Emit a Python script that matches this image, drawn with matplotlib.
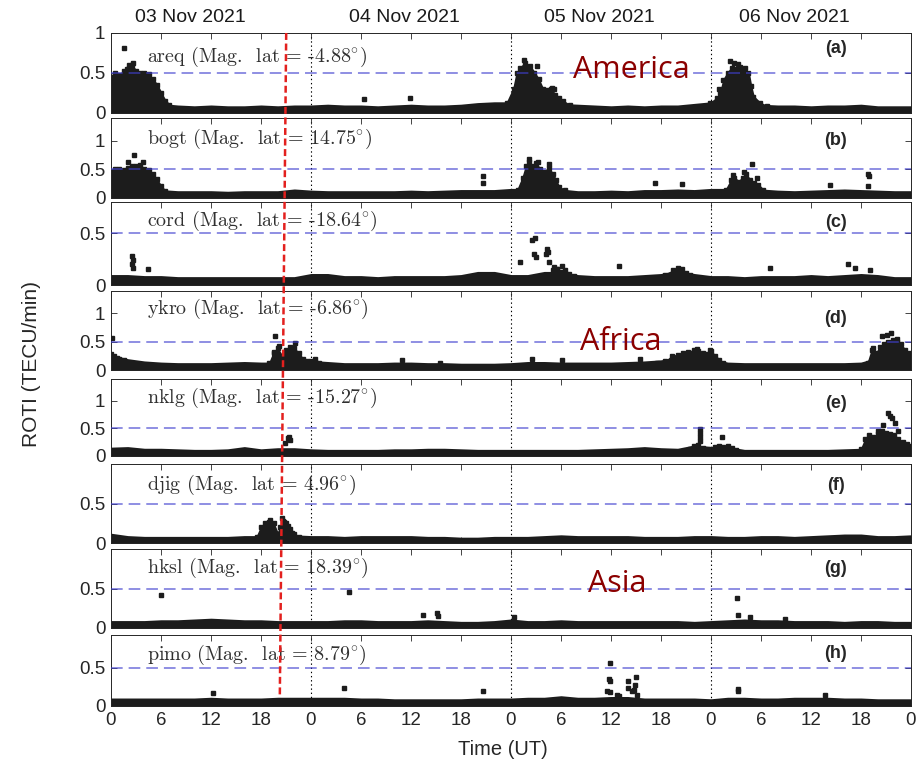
import matplotlib.pyplot as plt
from matplotlib.lines import Line2D

plt.rcParams['font.family'] = ['Liberation Sans', 'DejaVu Sans']
plt.rcParams['mathtext.fontset'] = 'cm'
plt.rcParams['lines.scale_dashes'] = False

W, H = 924, 760
INK = '#1c1c1c'

# ---- data (hours since 03 Nov 2021 00 UT, ROTI in TECU/min) ----
hours = list(range(0, 97, 2))
hour_ticks = list(range(0, 97, 6))
hour_labels = ['0', '6', '12', '18'] * 4 + ['0']
days = ['03 Nov 2021', '04 Nov 2021', '05 Nov 2021', '06 Nov 2021']
stations = ['areq', 'bogt', 'cord', 'ykro', 'nklg', 'djig', 'hksl', 'pimo']
mag_lat = ['-4.88', '14.75', '-18.64', '-6.86', '-15.27', '4.96', '18.39', '8.79']
tags = ['(a)', '(b)', '(c)', '(d)', '(e)', '(f)', '(g)', '(h)']
regions = ['America', 'Africa', 'Asia']
y_max = [1.0, 1.4, 0.8, 1.4, 1.4, 1.0, 1.0, 0.93]

# upper edge of the dense quiet-time band, every 2 h
areq_base = [.1, .1, .1, .1, .08, .07, .08, .07, .07, .08, .07, .08, .08, .09, .08, .08, .07,
             .08, .09, .08, .08, .09, .11, .12, .12, .12, .12, .1, .09, .08, .07, .08, .07,
             .08, .08, .1, .12, .12, .12, .09, .08, .08, .07, .08, .08, .09, .07, .07, .07]
bogt_base = [.14, .14, .14, .12, .1, .1, .1, .09, .1, .1, .1, .13, .11, .1, .1, .1, .1,
             .1, .11, .1, .11, .12, .12, .12, .14, .14, .14, .13, .1, .1, .11, .1, .12,
             .12, .13, .12, .14, .14, .14, .13, .11, .1, .11, .12, .13, .12, .11, .1, .1]
cord_base = [.09, .09, .08, .08, .07, .07, .07, .07, .07, .07, .07, .07, .1, .1, .08, .08, .07,
             .08, .08, .08, .08, .09, .12, .12, .09, .09, .12, .12, .09, .08, .08, .08, .09,
             .1, .13, .1, .08, .08, .07, .08, .08, .08, .09, .08, .09, .1, .09, .07, .07]
ykro_base = [.25, .18, .14, .12, .11, .11, .11, .12, .13, .12, .12, .15, .15, .13, .11, .11, .11,
             .12, .12, .11, .11, .1, .1, .1, .11, .13, .13, .12, .12, .12, .12, .13, .14,
             .16, .2, .2, .18, .12, .11, .11, .11, .11, .11, .11, .11, .12, .2, .25, .2]
nklg_base = [.14, .15, .12, .12, .11, .1, .1, .11, .15, .11, .13, .13, .11, .1, .1, .1, .1,
             .11, .11, .12, .12, .11, .1, .1, .1, .1, .1, .1, .1, .11, .12, .13, .15,
             .13, .12, .18, .15, .15, .1, .1, .1, .1, .1, .1, .11, .12, .2, .2, .18]
djig_base = [.11, .08, .07, .07, .07, .07, .07, .07, .08, .08, .1, .09, .08, .08, .07, .08, .08,
             .08, .08, .07, .07, .06, .06, .07, .07, .07, .08, .09, .08, .08, .08, .08, .07,
             .07, .07, .08, .08, .07, .07, .08, .08, .07, .08, .09, .1, .1, .08, .08, .09]
hksl_base = [.08, .08, .08, .09, .09, .1, .11, .1, .09, .09, .08, .08, .08, .08, .09, .09, .08,
             .08, .08, .09, .08, .07, .07, .08, .1, .08, .08, .09, .08, .08, .08, .08, .08,
             .08, .08, .07, .08, .09, .1, .09, .09, .08, .08, .08, .07, .08, .08, .07, .07]
pimo_base = [.09, .09, .09, .09, .09, .09, .1, .09, .09, .09, .1, .1, .1, .1, .1, .09, .09,
             .08, .08, .08, .08, .08, .09, .09, .09, .1, .1, .12, .1, .1, .11, .11, .09,
             .09, .09, .09, .08, .1, .1, .09, .09, .1, .1, .1, .09, .09, .08, .08, .08]

# dense bursts: (hours, upper edge)
areq_bursts = [
    ([0, .5, 1, 1.5, 2, 2.5, 3, 3.5, 4, 4.5, 5, 5.5, 6, 6.5, 7],
     [.45, .5, .47, .52, .55, .6, .52, .5, .5, .48, .42, .35, .25, .15, .1]),
    ([47.5, 48.3, 48.7, 49.1, 49.7, 50.3, 50.8, 51.3, 51.8, 52.3, 52.8, 53.3, 53.8, 54.3, 55.1],
     [.12, .3, .5, .56, .62, .58, .5, .42, .3, .28, .3, .22, .18, .14, .09]),
    ([71.9, 72.7, 73.1, 73.5, 74, 74.5, 75, 75.5, 76, 76.5, 76.8, 77.1, 77.9, 78.7],
     [.12, .18, .24, .41, .5, .56, .55, .57, .52, .5, .33, .2, .12, .08]),
]
bogt_bursts = [
    ([0, .5, 1, 1.5, 2, 2.5, 3, 3.5, 4, 4.5, 5, 5.5, 6, 6.5],
     [.45, .5, .5, .48, .52, .56, .55, .57, .5, .48, .42, .32, .2, .12]),
    ([48.8, 49.4, 49.8, 50.2, 50.6, 51, 51.5, 52, 52.5, 53, 53.4, 53.8, 54.5],
     [.14, .35, .55, .62, .55, .6, .5, .45, .52, .42, .3, .18, .13]),
    ([73.8, 74.4, 74.8, 75.3, 75.8, 76.2, 76.7, 77.2, 77.7, 78.3],
     [.14, .3, .35, .28, .35, .42, .3, .25, .22, .13]),
]
cord_bursts = [
    ([52.5, 53, 53.5, 54, 54.5, 55, 55.5], [.09, .14, .15, .13, .14, .11, .09]),
    ([66.5, 67.5, 68, 68.5, 69, 69.5], [.1, .14, .16, .15, .12, .1]),
]
ykro_bursts = [
    ([0, .3, .7, 1, 1.5], [.28, .25, .22, .2, .18]),
    ([19, 19.5, 20, 20.5, 21, 21.5, 22, 22.5, 23, 23.5, 24, 24.5, 25],
     [.12, .3, .38, .25, .35, .4, .38, .3, .2, .15, .16, .2, .12]),
    ([65.5, 66.5, 67.3, 68, 68.7, 69.3, 70, 70.5, 71, 71.5, 72, 72.5, 73, 73.5],
     [.12, .15, .24, .27, .3, .32, .35, .33, .3, .28, .33, .25, .18, .12]),
    ([90.8, 91.3, 91.8, 92.3, 92.8, 93.3, 93.8, 94.3, 94.8, 95.3, 95.8, 96],
     [.12, .35, .3, .4, .45, .5, .52, .5, .45, .35, .3, .28]),
]
nklg_bursts = [
    ([69.5, 70, 70.5, 71, 71.5], [.12, .18, .2, .15, .12]),
    ([72, 72.5, 73, 73.5, 74, 74.5, 75], [.12, .17, .18, .17, .18, .14, .11]),
    ([90, 90.5, 91, 91.5, 92, 92.5, 93, 93.5, 94, 94.5, 95, 95.5, 96],
     [.12, .3, .38, .35, .4, .45, .42, .4, .38, .3, .25, .22, .18]),
]
djig_bursts = [
    ([17.5, 18, 18.5, 19, 19.5, 20, 20.3, 20.7, 21, 21.5, 22, 22.5],
     [.08, .2, .26, .27, .25, .12, .2, .27, .25, .18, .12, .08]),
]
hksl_bursts = []
pimo_bursts = []

# isolated points
areq_dot_t = [1.5, 1.9, 2.2, 2.6, 30.3, 35.9, 49.6, 51.1, 52.9, 53.2, 72.9, 74.3, 74.8, 75.3, 76.1]
areq_dot_v = [.81, .55, .6, .62, .17, .18, .66, .58, .31, .3, .3, .64, .62, .61, .56]
bogt_dot_t = [2, 2.7, 3.8, 44.7, 44.7, 50.1, 51.2, 52.6, 65.3, 68.5, 74.7, 76, 76.9, 77.5, 86.3,
              90.9, 91, 90.9]
bogt_dot_v = [.62, .75, .62, .38, .25, .67, .63, .58, .26, .24, .4, .45, .58, .34, .22,
              .42, .38, .2]
cord_dot_t = [2.5, 2.6, 2.5, 2.6, 4.4, 49.1, 50.5, 50.9, 50.8, 51, 52.3, 52.4, 52.2, 52.6, 53.1,
              53.5, 54.1, 60.9, 79.1, 88.5, 89.3, 91.1]
cord_dot_v = [.28, .24, .2, .16, .15, .22, .43, .45, .3, .27, .35, .32, .3, .22, .17,
              .15, .18, .18, .16, .2, .16, .14]
ykro_dot_t = [.1, 19.5, 19.7, 20.1, 22.1, 34.9, 39.5, 50.5, 54.1, 63.5, 70.3, 71.9, 91.5, 92.5,
              93.1, 93.6, 94.3]
ykro_dot_v = [.56, .32, .59, .43, .47, .17, .13, .19, .18, .2, .37, .35, .38, .59,
              .62, .65, .55]
nklg_dot_t = [20.9, 21.2, 21.3, 21.5, 70.7, 70.7, 70.7, 70.7, 73.3, 92, 92.7, 93.2, 93.5, 93.7,
              94.1, 94.5]
nklg_dot_v = [.23, .32, .35, .29, .48, .41, .34, .27, .34, .45, .56, .77, .72, .68, .6, .45]
djig_dot_t = [19.1, 20.5, 20.6, 21.2, 21.7]
djig_dot_v = [.29, .32, .28, .22, .13]
hksl_dot_t = [6, 28.5, 37.5, 39.1, 39.3, 48.3, 75.1, 75.3, 76.7, 80.9]
hksl_dot_v = [.42, .45, .16, .19, .15, .14, .38, .16, .14, .12]
pimo_dot_t = [12.2, 28, 44.7, 59.9, 59.7, 59.9, 59.5, 59.9, 60.7, 61, 62.1, 62.1, 62.5, 63,
              62.9, 62.7, 63.1, 75.3, 75.3, 85.7]
pimo_dot_v = [.17, .23, .19, .56, .36, .33, .19, .18, .15, .13, .33, .24, .19, .38,
              .28, .21, .14, .22, .19, .14]

bases = [areq_base, bogt_base, cord_base, ykro_base, nklg_base, djig_base, hksl_base, pimo_base]
bursts = [areq_bursts, bogt_bursts, cord_bursts, ykro_bursts, nklg_bursts, djig_bursts,
          hksl_bursts, pimo_bursts]
dots = [(areq_dot_t, areq_dot_v), (bogt_dot_t, bogt_dot_v), (cord_dot_t, cord_dot_v),
        (ykro_dot_t, ykro_dot_v), (nklg_dot_t, nklg_dot_v), (djig_dot_t, djig_dot_v),
        (hksl_dot_t, hksl_dot_v), (pimo_dot_t, pimo_dot_v)]

# ---- layout (pixels) ----
panel_top = [32.5, 117.7, 202, 290.5, 378.7, 464.3, 549, 635]
panel_bot = [112.5, 197.5, 285, 370, 456, 543, 628, 706]
name_base = [62, 144, 226, 314, 403, 490, 573, 660]
tag_base = [53.3, 145, 226.7, 323.3, 408.3, 490, 572.7, 658.3]
region_pos = [(631.7, 78), (621, 350), (617.5, 592)]
day_x = [190, 404.5, 599, 794]

fig = plt.figure(figsize=(W / 100, H / 100), dpi=100)
fx = lambda px: px / W
fy = lambda py: 1 - py / H

for i in range(8):
    ax = fig.add_axes([fx(111), fy(panel_bot[i]), 800 / W, (panel_bot[i] - panel_top[i]) / H])
    ax.set_xlim(0, 96)
    ax.set_ylim(0, y_max[i])

    ax.fill_between(hours, 0, bases[i], color=INK, lw=1.6, zorder=2)
    for t, v in bursts[i]:
        ax.fill_between(t, 0, v, color=INK, lw=1.2, zorder=2)
        ax.plot(t, v, 's', ms=3.0, color=INK, zorder=2)
    ax.plot(dots[i][0], dots[i][1], 's', ms=2.8, color=INK, zorder=3)

    for d in (24, 48, 72):
        ax.axvline(d, color='k', lw=0.8, ls=(0, (1, 2)), zorder=1)
    ax.axhline(0.5, color='#4040d0', alpha=0.75, lw=1.1, ls=(0, (8.4, 4.3)), zorder=4)

    ax.set_xticks(hour_ticks)
    ax.set_yticks([0, 0.5, 1] if y_max[i] >= 1 and i < 5 else [0, 0.5])
    ax.set_yticklabels(['0', '0.5', '1'][:len(ax.get_yticks())])
    if i == 7:
        ax.set_xticklabels(hour_labels)
    else:
        ax.set_xticklabels([])
    ax.tick_params(direction='in', top=True, right=True, length=4, width=0.6,
                   labelsize=13.5, colors='#262626', pad=4)
    for s in ax.spines.values():
        s.set_linewidth(0.7)
        s.set_color('#262626')

    fig.text(fx(147), fy(name_base[i]),
             f'{stations[i]} (Mag.  lat = {mag_lat[i]}' + r'$^{\circ}$)',
             fontfamily='cmr10', fontsize=14.4, color='#303030', va='baseline')
    fig.text(fx(835.5), fy(tag_base[i]), tags[i], fontsize=13, fontweight='bold',
             color='#262626', ha='center', va='baseline')

for name, (x, y) in zip(regions, region_pos):
    fig.text(fx(x), fy(y), name, fontfamily='Open Sans', fontsize=22, color='#8b0000',
             ha='center', va='baseline', zorder=5)

for x, d in zip(day_x, days):
    fig.text(fx(x), fy(21.7), d, fontsize=14, ha='center', va='baseline', color='#1a1a1a')

fig.text(fx(503), fy(755), 'Time (UT)', fontsize=14.5, ha='center', va='baseline',
         color='#262626')
fig.text(fx(32), fy(364), 'ROTI (TECU/min)', fontsize=15, rotation=90, ha='center',
         va='center', color='#262626')

fig.add_artist(Line2D([fx(286.2), fx(279.8)], [fy(33), fy(698)], color='#e3201e', lw=1.8,
                      dashes=(5, 2.6), zorder=10))

fig.savefig('out.png', dpi=100)
